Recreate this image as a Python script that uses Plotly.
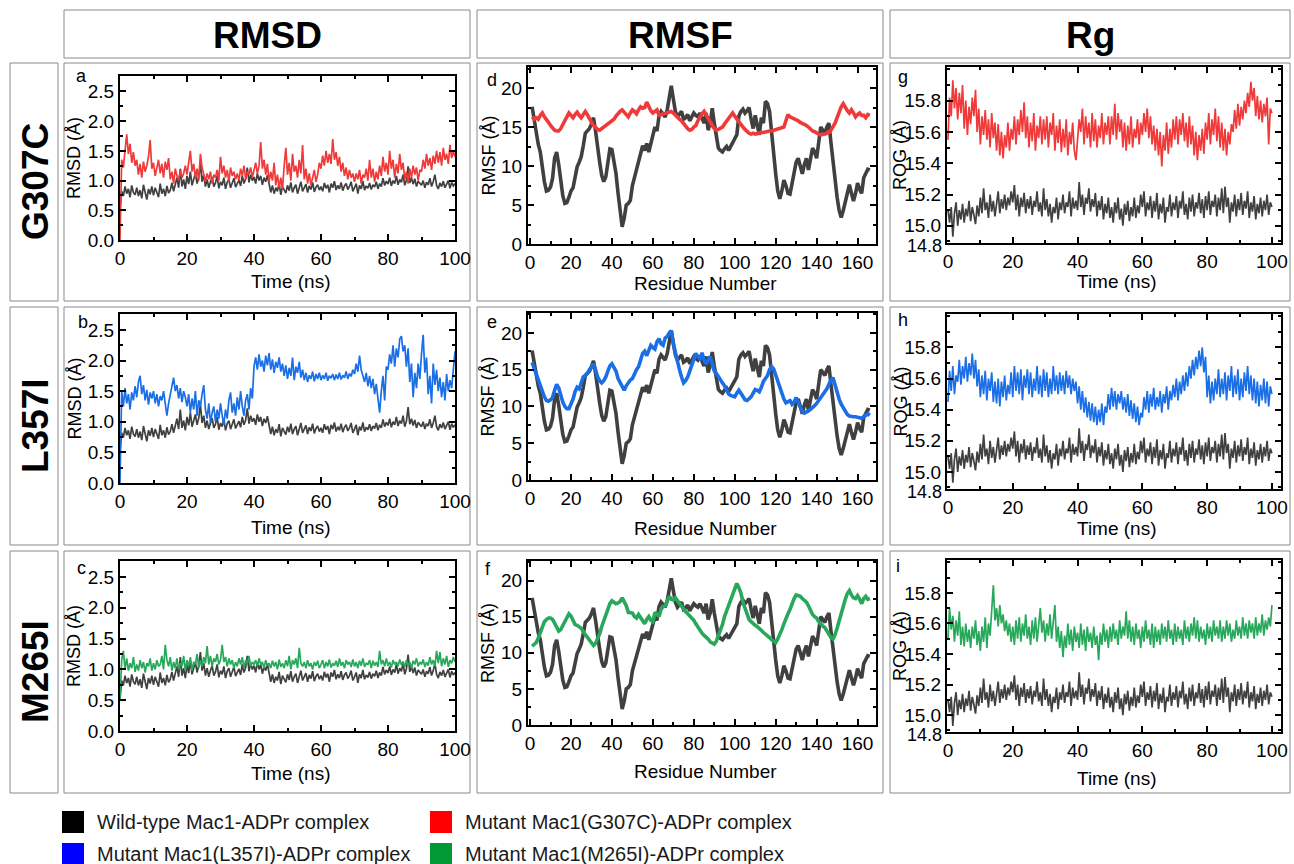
import plotly.graph_objects as go

W, H = 1294, 864

# ---------------- data ----------------
# RMSD (Å), sampled every 0.5 ns from 0 to 100 ns
rmsd_wt = [
 0.52,0.82,0.74,0.90,0.78,0.86,0.72,0.92,0.80,0.76,
 0.88,0.74,0.84,0.70,0.93,0.79,0.68,0.86,0.77,0.90,
 0.75,0.88,0.80,0.72,0.95,0.78,0.86,0.74,0.91,0.79,
 0.84,0.96,0.82,0.92,1.05,0.88,1.20,0.90,1.02,0.86,
 1.08,0.94,1.15,0.92,1.04,1.12,0.95,1.06,1.28,0.98,
 1.10,0.90,1.02,0.88,0.98,1.06,0.90,0.96,1.08,0.87,
 0.98,0.92,1.05,0.86,0.97,1.02,0.88,0.95,1.04,0.89,
 0.96,1.01,0.91,1.08,0.95,1.03,1.22,0.97,1.10,1.00,
 1.06,0.95,1.12,1.00,1.08,0.93,1.05,0.98,1.09,0.92,
 0.80,0.92,0.78,0.88,0.82,0.96,0.76,0.90,0.84,0.79,
 0.92,0.83,0.97,0.80,0.88,0.93,0.78,0.90,0.98,0.82,
 0.88,0.94,0.80,0.91,0.85,0.97,0.81,0.89,0.93,0.84,
 0.90,0.82,0.96,0.87,0.93,0.80,0.95,0.88,0.99,0.84,
 0.92,0.86,0.97,0.83,0.91,0.95,0.85,0.90,0.98,0.82,
 0.88,0.95,0.78,0.92,0.86,0.99,0.84,0.91,0.87,0.96,
 0.85,0.93,0.89,0.98,0.86,0.95,0.90,1.04,0.92,0.99,
 0.94,1.05,0.91,1.00,0.95,1.08,0.93,1.02,0.97,1.10,
 0.92,1.01,1.24,0.96,1.05,0.94,1.03,0.90,0.99,0.95,
 0.92,1.00,0.88,0.97,0.93,1.04,0.90,0.98,1.10,0.92,
 0.86,0.96,0.90,0.99,0.88,0.94,1.00,0.87,0.97,0.91,
 0.95]
rmsd_g307c = [
 0.00,1.35,1.22,1.50,1.78,1.45,1.62,1.30,1.48,1.25,
 1.35,1.10,1.28,1.05,1.32,1.15,1.25,1.40,1.68,1.20,
 1.30,1.08,1.25,1.35,1.12,1.28,1.05,1.32,1.18,1.38,
 1.02,1.15,0.95,1.20,1.08,1.00,1.18,1.05,1.12,1.25,
 1.10,1.35,1.50,1.15,1.28,1.05,1.20,1.00,1.45,1.22,
 1.08,0.98,1.12,1.02,1.15,0.95,1.10,1.05,1.18,1.00,
 1.40,1.12,1.25,1.05,1.18,0.98,1.22,1.08,1.15,1.02,
 1.12,1.00,1.20,1.08,1.25,1.02,1.15,1.10,1.22,1.05,
 1.18,1.30,1.12,1.25,1.65,1.20,1.35,1.10,1.28,0.98,
 1.15,1.00,1.30,0.92,1.10,0.88,1.05,0.85,1.25,1.55,
 1.10,1.30,1.00,1.45,1.15,1.25,1.05,1.35,1.12,1.60,
 1.02,1.20,0.95,1.12,0.92,1.05,1.18,0.98,1.10,1.30,
 1.20,1.42,1.25,1.50,1.30,1.45,1.28,1.70,1.35,1.48,
 1.25,1.40,1.15,1.30,1.08,1.22,1.02,1.18,1.05,1.12,
 0.98,1.12,1.02,1.18,0.95,1.10,1.05,1.20,1.00,1.35,
 1.05,1.20,0.98,1.15,1.02,1.25,1.08,1.40,1.15,1.30,
 1.10,1.50,1.20,1.35,1.05,1.28,1.12,1.45,1.18,1.30,
 1.02,1.15,0.95,1.20,1.05,1.25,1.10,1.22,1.00,1.18,
 1.15,1.35,1.20,1.45,1.25,1.38,1.18,1.42,1.28,1.50,
 1.30,1.48,1.25,1.55,1.35,1.45,1.28,1.60,1.38,1.50,
 1.40]
rmsd_l357i = [
 0.00,1.50,1.25,1.55,1.30,1.45,1.20,1.48,1.35,1.58,
 1.40,1.65,1.75,1.45,1.60,1.35,1.52,1.28,1.48,1.38,
 1.50,1.30,1.45,1.25,1.42,1.35,1.50,1.28,1.10,1.30,
 1.45,1.62,1.72,1.50,1.60,1.38,1.55,1.32,1.50,1.40,
 1.25,1.45,1.15,1.38,1.20,1.50,1.10,1.35,1.25,1.45,
 1.60,1.20,1.05,1.30,0.98,1.15,1.25,1.00,1.20,1.05,
 1.30,1.10,0.95,1.20,1.05,1.35,1.48,1.15,1.30,1.10,
 1.40,1.20,1.50,1.25,1.10,1.35,1.45,1.20,1.55,1.38,
 1.90,2.05,1.85,2.10,1.90,2.00,1.82,2.08,1.92,2.12,
 1.85,2.02,1.80,1.98,1.88,2.05,1.82,1.95,1.75,1.92,
 1.70,1.88,1.75,2.05,1.68,1.90,1.80,1.98,1.72,1.85,
 1.68,1.80,1.65,1.76,1.70,1.82,1.66,1.78,1.70,1.80,
 1.68,1.76,1.70,1.80,1.67,1.75,1.71,1.78,1.68,1.77,
 1.70,1.80,1.69,1.76,1.72,1.82,1.70,1.79,1.74,1.85,
 1.78,1.95,1.82,2.08,1.85,1.75,1.65,1.80,1.58,1.75,
 1.55,1.70,1.45,1.62,1.40,1.15,1.50,1.75,1.35,1.90,
 1.85,2.10,1.95,2.25,1.90,2.20,2.05,2.35,2.40,2.15,
 2.25,1.90,2.20,1.65,1.95,1.40,1.80,1.55,1.95,1.70,
 2.10,2.42,1.80,2.05,1.45,1.75,1.30,1.95,1.60,1.85,
 1.50,1.72,1.40,1.65,1.35,1.78,1.50,1.68,1.55,1.80,
 2.15]
rmsd_m265i = [
 0.50,1.15,1.30,1.00,1.18,0.98,1.10,1.02,1.20,0.96,
 1.08,0.98,1.15,1.02,1.12,0.95,1.10,1.05,1.18,0.98,
 1.10,1.00,1.15,1.05,1.08,1.22,1.00,1.40,1.15,1.05,
 1.20,0.98,1.12,1.02,1.18,1.00,1.10,1.05,1.22,0.98,
 1.15,1.05,1.20,0.98,1.12,1.08,1.25,1.02,1.15,1.05,
 1.20,1.10,1.38,1.08,1.22,1.05,1.18,1.12,1.25,1.08,
 1.15,1.40,1.12,1.20,1.05,1.18,1.08,1.15,1.02,1.12,
 1.05,1.18,1.08,1.20,1.02,1.15,1.10,1.22,1.05,1.12,
 1.08,1.15,1.05,1.18,1.08,1.12,1.02,1.15,1.06,1.10,
 1.02,1.14,1.05,1.12,1.00,1.16,1.04,1.10,1.02,1.15,
 1.05,1.22,1.00,1.15,1.08,1.18,1.02,1.35,1.10,1.05,
 1.12,1.02,1.15,1.05,1.10,1.00,1.12,1.06,1.14,1.02,
 1.08,1.15,1.02,1.12,1.05,1.16,1.03,1.10,1.06,1.14,
 1.04,1.18,1.06,1.12,1.02,1.15,1.08,1.12,1.04,1.16,
 1.05,1.12,1.02,1.14,1.06,1.18,1.04,1.10,1.08,1.15,
 1.02,1.14,1.06,1.12,1.04,1.30,1.08,1.15,1.05,1.18,
 1.06,1.12,1.03,1.15,1.08,1.12,1.05,1.16,1.07,1.13,
 1.04,1.15,1.06,1.12,1.02,1.14,1.08,1.18,1.05,1.12,
 1.08,1.16,1.04,1.12,1.06,1.20,1.08,1.15,1.05,1.30,
 1.10,1.28,1.05,1.18,1.08,1.22,1.04,1.15,1.10,1.20,
 1.12]

# RMSF (Å) per residue, residues 1..166
rmsf_wt = [
 17.6,15.8,14.0,12.8,11.8,9.8,8.0,6.8,6.9,7.3,
 8.4,11.0,11.8,10.2,8.0,6.2,5.2,5.3,6.0,6.8,
 7.2,8.3,9.9,10.5,11.2,12.6,14.2,14.5,14.8,15.4,
 16.2,14.5,12.0,10.5,8.8,8.0,8.6,10.5,12.2,12.1,
 10.8,9.0,6.5,4.2,2.2,3.3,5.0,5.2,5.6,7.5,
 8.5,9.3,10.5,11.5,12.6,12.0,12.9,11.8,12.8,13.6,
 15.0,14.5,16.4,17.0,16.6,16.3,17.2,18.8,20.3,18.6,
 17.0,16.3,16.6,17.0,16.0,16.2,16.6,15.8,16.3,16.8,
 16.5,16.3,16.8,16.2,15.5,16.8,14.6,15.5,17.4,15.5,
 14.0,12.3,12.0,11.8,12.2,12.5,12.0,12.6,13.0,13.5,
 14.0,16.4,17.0,17.3,16.8,17.1,17.5,16.0,14.8,16.5,
 15.0,14.0,16.2,15.5,18.3,18.0,17.0,14.0,12.0,9.0,
 6.8,5.8,6.8,8.2,7.5,6.5,6.4,8.0,9.5,10.5,
 11.0,10.0,9.0,10.2,11.0,9.5,10.8,12.3,11.8,11.0,
 13.0,15.0,14.6,14.2,15.0,15.5,13.0,10.5,8.0,6.0,
 4.3,3.4,4.3,5.5,6.8,7.6,6.5,5.5,6.5,7.8,
 7.0,6.5,8.5,9.0,9.6,9.5]
rmsf_g307c = [
 16.3,16.0,16.2,16.0,16.5,16.8,16.3,16.0,15.6,15.2,
 14.9,14.6,14.5,14.5,14.8,15.3,15.9,16.5,16.8,16.5,
 16.2,16.6,16.9,16.5,16.2,16.6,17.0,16.6,16.0,15.6,
 15.2,14.9,14.7,14.6,14.8,15.0,15.2,15.4,15.5,15.8,
 16.0,16.4,16.8,17.0,17.2,16.9,16.5,16.3,16.8,17.2,
 17.0,16.7,17.2,17.6,17.4,17.5,18.2,17.5,17.1,16.8,
 17.0,17.2,16.5,16.6,16.7,16.7,16.8,16.9,17.0,16.8,
 16.5,16.3,16.0,15.8,15.4,15.0,14.8,14.6,14.7,15.0,
 15.2,15.8,16.3,16.7,17.0,16.5,16.0,15.6,15.2,14.8,
 14.6,14.7,14.8,15.0,15.4,15.8,16.2,16.5,16.8,16.4,
 16.0,15.6,15.3,15.0,14.7,14.4,14.2,14.1,14.2,14.1,
 14.2,14.2,14.3,14.3,14.4,14.4,14.5,14.5,14.6,14.6,
 14.7,14.8,14.9,15.0,15.8,16.6,16.3,16.2,16.0,16.0,
 15.8,15.6,15.5,15.3,15.2,15.0,14.7,14.5,14.4,14.2,
 14.1,14.0,14.0,14.1,14.2,14.3,14.6,15.0,15.5,16.2,
 17.0,17.6,18.0,17.5,17.1,16.8,17.2,16.8,16.3,16.6,
 16.8,16.5,16.5,16.2,16.6,16.5]
rmsf_l357i = [
 16.0,15.2,14.5,13.6,12.7,12.0,11.3,10.8,10.7,10.9,
 11.2,12.2,13.0,12.5,11.5,10.6,10.0,9.7,9.7,10.3,
 11.0,12.0,12.6,12.4,13.2,14.0,14.2,14.5,15.0,15.4,
 15.8,15.0,14.0,13.5,13.2,13.5,14.0,14.8,15.5,15.8,
 15.4,14.8,13.8,13.2,12.6,12.2,12.8,13.3,13.6,13.8,
 14.5,15.0,15.4,16.5,17.2,17.5,16.9,17.6,18.3,18.0,
 17.8,18.8,19.2,18.5,18.3,19.3,19.5,20.0,20.3,18.5,
 17.2,16.0,15.0,14.0,13.2,13.5,14.0,14.8,15.6,16.4,
 17.2,16.8,16.5,17.3,16.3,15.8,16.3,16.8,15.8,14.8,
 14.5,14.0,13.6,13.2,12.8,12.2,11.7,11.5,11.4,11.3,
 11.8,12.2,11.8,11.4,10.9,10.8,11.1,11.3,11.8,12.3,
 12.2,12.0,12.6,13.4,13.8,14.2,15.0,15.4,15.1,14.3,
 13.5,12.6,11.7,11.0,10.5,10.7,10.8,10.3,10.6,11.2,
 10.6,9.8,9.3,9.1,9.2,9.4,9.6,9.8,10.1,10.4,
 10.8,11.2,11.5,11.9,12.4,13.0,13.6,13.9,12.8,12.0,
 11.0,10.3,9.8,9.3,8.9,8.7,8.6,8.6,8.6,8.5,
 8.4,8.4,8.6,8.8,9.0,8.8]
rmsf_m265i = [
 10.9,11.1,11.4,12.0,12.8,13.6,14.3,14.6,14.8,14.8,
 14.6,14.1,13.5,13.0,13.2,13.7,14.2,14.8,15.4,15.1,
 14.6,13.9,13.8,13.6,13.4,12.9,12.5,12.1,11.8,11.4,
 11.0,11.3,11.9,12.6,13.6,14.5,15.3,16.2,16.8,17.2,
 17.0,16.8,16.9,17.1,17.6,17.0,16.5,15.6,15.5,15.5,
 15.0,14.8,15.3,14.8,14.3,14.0,14.6,15.0,14.5,14.3,
 15.6,15.3,15.0,16.0,16.4,16.5,17.2,17.8,17.4,17.3,
 17.6,17.2,16.7,16.4,16.0,15.7,15.4,15.1,14.8,14.5,
 14.0,13.5,13.0,12.7,12.4,12.2,11.9,11.5,11.3,11.2,
 11.6,12.4,13.0,13.9,15.0,15.8,16.6,17.4,18.2,19.0,
 19.6,19.0,18.3,17.0,16.1,15.4,14.6,14.3,14.0,13.8,
 13.6,13.4,13.1,12.8,12.6,12.4,12.1,11.8,11.6,11.4,
 11.9,12.5,13.2,14.0,14.8,15.4,16.0,16.8,17.5,18.0,
 17.9,17.8,17.5,17.2,17.0,16.5,15.8,15.3,15.0,14.8,
 14.3,13.9,13.7,13.5,13.0,12.6,12.1,11.9,12.5,13.4,
 14.5,15.6,16.5,17.4,18.2,18.6,18.0,17.6,17.5,17.9,
 17.4,16.8,17.5,17.8,17.4,17.5]

# Radius of gyration (Å), sampled every 0.5 ns from 0 to 100 ns
rog_wt = [
 15.10,15.02,15.12,14.93,15.08,15.15,15.00,15.10,15.04,15.14,
 15.02,15.11,15.06,15.16,15.03,15.12,15.07,15.01,15.13,15.06,
 15.18,15.08,15.24,15.10,15.15,15.05,15.20,15.09,15.16,15.06,
 15.14,15.22,15.08,15.17,15.11,15.20,15.10,15.18,15.13,15.22,
 15.15,15.26,15.10,15.20,15.06,15.18,15.12,15.21,15.08,15.17,
 15.11,15.19,15.07,15.16,15.12,15.22,15.09,15.15,15.06,15.24,
 15.10,15.17,15.06,15.14,15.02,15.12,15.08,15.18,15.04,15.15,
 15.10,15.20,15.08,15.15,15.12,15.22,15.06,15.18,15.11,15.16,
 15.10,15.28,15.12,15.20,15.07,15.18,15.14,15.24,15.09,15.17,
 15.12,15.21,15.06,15.16,15.10,15.19,15.04,15.14,15.08,15.18,
 15.05,15.12,15.02,15.15,15.08,15.18,15.04,15.11,15.00,15.14,
 15.07,15.16,15.03,15.12,15.06,15.18,15.05,15.13,15.08,15.20,
 15.12,15.22,15.06,15.15,15.10,15.19,15.05,15.16,15.09,15.21,
 15.04,15.14,15.08,15.18,15.02,15.12,15.09,15.20,15.06,15.15,
 15.10,15.19,15.05,15.16,15.11,15.22,15.07,15.14,15.04,15.18,
 15.09,15.20,15.06,15.15,15.11,15.21,15.08,15.17,15.05,15.19,
 15.10,15.22,15.07,15.16,15.12,15.20,15.06,15.18,15.10,15.24,
 15.08,15.25,15.12,15.18,15.02,15.15,15.09,15.20,15.06,15.17,
 15.10,15.21,15.07,15.16,15.11,15.22,15.05,15.15,15.09,15.19,
 15.04,15.14,15.08,15.18,15.06,15.16,15.10,15.20,15.07,15.15,
 15.12]
rog_g307c = [
 15.55,15.82,15.70,15.93,15.75,15.88,15.68,15.85,15.72,15.90,
 15.62,15.80,15.58,15.76,15.65,15.82,15.70,15.87,15.60,15.75,
 15.52,15.70,15.58,15.74,15.55,15.68,15.50,15.72,15.56,15.66,
 15.48,15.65,15.45,15.60,15.43,15.58,15.50,15.66,15.48,15.62,
 15.55,15.70,15.52,15.68,15.58,15.74,15.60,15.79,15.56,15.70,
 15.50,15.66,15.54,15.72,15.48,15.64,15.56,15.70,15.52,15.68,
 15.55,15.70,15.50,15.66,15.58,15.72,15.48,15.64,15.53,15.68,
 15.47,15.62,15.50,15.68,15.45,15.60,15.52,15.66,15.48,15.42,
 15.55,15.68,15.60,15.75,15.52,15.70,15.56,15.66,15.50,15.72,
 15.54,15.68,15.50,15.64,15.56,15.72,15.52,15.66,15.58,15.70,
 15.52,15.70,15.58,15.78,15.55,15.72,15.60,15.68,15.50,15.66,
 15.48,15.64,15.52,15.70,15.50,15.62,15.56,15.68,15.52,15.66,
 15.58,15.72,15.60,15.75,15.56,15.70,15.52,15.64,15.48,15.62,
 15.45,15.60,15.38,15.58,15.48,15.66,15.46,15.62,15.50,15.68,
 15.55,15.70,15.52,15.68,15.58,15.72,15.54,15.66,15.50,15.70,
 15.52,15.64,15.45,15.60,15.42,15.58,15.48,15.62,15.46,15.66,
 15.55,15.72,15.52,15.68,15.58,15.75,15.54,15.70,15.50,15.66,
 15.48,15.62,15.45,15.60,15.52,15.65,15.60,15.74,15.62,15.78,
 15.64,15.76,15.68,15.80,15.72,15.85,15.76,15.92,15.80,15.88,
 15.70,15.83,15.68,15.80,15.66,15.78,15.70,15.82,15.52,15.75,
 15.72]
rog_l357i = [
 15.45,15.65,15.52,15.68,15.50,15.62,15.58,15.72,15.56,15.68,
 15.60,15.74,15.58,15.70,15.62,15.76,15.60,15.72,15.55,15.66,
 15.48,15.62,15.50,15.65,15.46,15.60,15.52,15.64,15.45,15.58,
 15.44,15.60,15.42,15.58,15.48,15.62,15.46,15.56,15.50,15.64,
 15.48,15.68,15.52,15.64,15.50,15.66,15.46,15.62,15.54,15.66,
 15.50,15.64,15.48,15.60,15.52,15.68,15.50,15.62,15.48,15.66,
 15.52,15.64,15.48,15.60,15.50,15.68,15.52,15.62,15.50,15.64,
 15.52,15.62,15.50,15.65,15.54,15.62,15.50,15.60,15.52,15.58,
 15.44,15.55,15.40,15.52,15.38,15.48,15.35,15.45,15.33,15.44,
 15.32,15.42,15.30,15.40,15.32,15.44,15.30,15.42,15.38,15.50,
 15.40,15.54,15.42,15.52,15.40,15.50,15.44,15.52,15.40,15.48,
 15.38,15.50,15.36,15.46,15.34,15.44,15.32,15.42,15.30,15.38,
 15.35,15.48,15.40,15.52,15.38,15.50,15.42,15.54,15.40,15.48,
 15.42,15.52,15.38,15.50,15.44,15.55,15.40,15.52,15.46,15.56,
 15.48,15.60,15.46,15.58,15.50,15.62,15.52,15.64,15.55,15.68,
 15.60,15.72,15.62,15.74,15.66,15.78,15.68,15.80,15.64,15.74,
 15.48,15.62,15.44,15.58,15.46,15.60,15.50,15.66,15.48,15.60,
 15.50,15.64,15.46,15.62,15.52,15.68,15.48,15.62,15.50,15.66,
 15.46,15.60,15.48,15.64,15.52,15.68,15.50,15.62,15.46,15.60,
 15.44,15.58,15.42,15.56,15.46,15.60,15.44,15.58,15.42,15.55,
 15.50]
rog_m265i = [
 15.50,15.70,15.56,15.65,15.48,15.62,15.52,15.68,15.46,15.58,
 15.45,15.60,15.48,15.56,15.44,15.58,15.50,15.62,15.46,15.55,
 15.42,15.58,15.48,15.64,15.44,15.60,15.52,15.66,15.85,15.62,
 15.70,15.58,15.72,15.60,15.66,15.55,15.62,15.52,15.60,15.48,
 15.58,15.46,15.62,15.50,15.64,15.48,15.60,15.52,15.66,15.50,
 15.58,15.46,15.62,15.50,15.64,15.48,15.60,15.70,15.54,15.62,
 15.48,15.60,15.52,15.66,15.50,15.62,15.72,15.48,15.58,15.44,
 15.55,15.38,15.52,15.44,15.60,15.46,15.56,15.42,15.58,15.48,
 15.54,15.44,15.60,15.46,15.56,15.42,15.58,15.48,15.54,15.44,
 15.58,15.46,15.52,15.36,15.54,15.46,15.60,15.48,15.56,15.44,
 15.58,15.48,15.60,15.50,15.56,15.46,15.62,15.50,15.58,15.52,
 15.68,15.50,15.62,15.48,15.58,15.46,15.60,15.50,15.56,15.44,
 15.58,15.48,15.62,15.50,15.56,15.46,15.60,15.44,15.58,15.48,
 15.56,15.46,15.60,15.50,15.58,15.48,15.62,15.50,15.56,15.46,
 15.60,15.48,15.58,15.50,15.56,15.46,15.62,15.50,15.58,15.48,
 15.60,15.52,15.64,15.50,15.62,15.48,15.58,15.50,15.56,15.46,
 15.60,15.50,15.58,15.48,15.62,15.52,15.58,15.50,15.62,15.48,
 15.58,15.50,15.62,15.52,15.60,15.48,15.56,15.50,15.62,15.52,
 15.58,15.50,15.64,15.52,15.60,15.50,15.62,15.54,15.60,15.50,
 15.64,15.52,15.60,15.54,15.66,15.52,15.62,15.56,15.64,15.58,
 15.72]

column_titles = ["RMSD", "RMSF", "Rg"]
row_titles = ["G307C", "L357I", "M265I"]
panel_letters = ["a", "b", "c", "d", "e", "f", "g", "h", "i"]
legend_labels = ["Wild-type Mac1-ADPr complex", "Mutant Mac1(G307C)-ADPr complex",
                 "Mutant Mac1(L357I)-ADPr complex", "Mutant Mac1(M265I)-ADPr complex"]
rmsd_ticks = [0.0, 0.5, 1.0, 1.5, 2.0, 2.5]
rmsf_ticks = [0, 5, 10, 15, 20]
rog_ticks = [15.0, 15.2, 15.4, 15.6, 15.8]
time_ticks = [0, 20, 40, 60, 80, 100]
residue_ticks = [0, 20, 40, 60, 80, 100, 120, 140, 160]

# ---------------- styling ----------------
C_WT = "#404040"
C_RED = "#f03a3a"
C_BLUE = "#1a6ee6"
C_GREEN = "#27a85a"
FONT = "Arial, Liberation Sans, sans-serif"


def fx(p):
    return p / W


def fy(p):
    return 1 - p / H


def tgrid(vals):
    return [i * 0.5 for i in range(len(vals))]


def rgrid(vals):
    return list(range(1, len(vals) + 1))


def text(t, px, py, size, angle=0, xanchor="center", color="black"):
    return dict(text=t, x=fx(px), y=fy(py), xref="paper", yref="paper", showarrow=False,
                textangle=angle, xanchor=xanchor, yanchor="middle",
                font=dict(family=FONT, size=size, color=color))


mut_rmsd = [rmsd_g307c, rmsd_l357i, rmsd_m265i]
mut_rmsf = [rmsf_g307c, rmsf_l357i, rmsf_m265i]
mut_rog = [rog_g307c, rog_l357i, rog_m265i]
mut_col = [C_RED, C_BLUE, C_GREEN]

# plot areas in pixels: (x0, x1) per column, (top, bottom) per column/row
col_x = [(120, 455), (528, 876), (947, 1281)]
row_y = {
    0: [(76, 240), (314, 483), (561, 731)],
    1: [(67, 244), (313, 480), (561, 725)],
    2: [(67, 243), (314, 489), (560, 732)],
}
xtitle_y = {0: [282, 527, 773], 1: [283, 528, 771], 2: [282, 528, 778]}
# panel letter positions (pixels), order a..i (column-wise)
letter_pos = [(81, 76), (83, 322), (81, 568), (492, 80), (492, 322), (488, 569),
              (903, 77), (903, 320), (898, 566)]

fig = go.Figure()
layout = {}
annotations = []
shapes = []

axis_base = dict(showline=True, linecolor="black", linewidth=2, mirror="allticks",
                 ticks="inside", ticklen=6, tickwidth=1.5, tickcolor="black",
                 showgrid=False, zeroline=False,
                 tickfont=dict(family=FONT, size=19, color="black"))

k = 0
for c in range(3):
    for r in range(3):
        k += 1
        xs = "" if k == 1 else str(k)
        xa, ya = "x" + xs, "y" + xs
        x0, x1 = col_x[c]
        yt, yb = row_y[c][r]
        xd = [fx(x0), fx(x1)]
        yd = [fy(yb), fy(yt)]
        if c == 0:
            xr, xt, xm = [0, 100], time_ticks, 10
            yr, yt_, ym, yf = [0, 2.76], rmsd_ticks, 0.25, ".1f"
            series = [(tgrid(rmsd_wt), rmsd_wt, C_WT), (tgrid(mut_rmsd[r]), mut_rmsd[r], mut_col[r])]
            lw = 1.7
            ytitle, xtitle = "RMSD (Å)", "Time (ns)"
            ytx = 74
        elif c == 1:
            xr, xt, xm = [-1, 169], residue_ticks, 10
            yr, yt_, ym, yf = [0, 22.7], rmsf_ticks, 2.5, "d"
            series = [(rgrid(rmsf_wt), rmsf_wt, C_WT), (rgrid(mut_rmsf[r]), mut_rmsf[r], mut_col[r])]
            lw = 3.6
            ytitle, xtitle = "RMSF (Å)", "Residue Number"
            ytx = 488
        else:
            xr, xt, xm = [-0.3, 102.8], time_ticks, 10
            yr, yt_, ym, yf = [14.89, 16.015], rog_ticks, 0.1, ".1f"
            series = [(tgrid(rog_wt), rog_wt, C_WT), (tgrid(mut_rog[r]), mut_rog[r], mut_col[r])]
            lw = 1.7
            ytitle, xtitle = "ROG (Å)", "Time (ns)"
            ytx = 900
        for sx, sy, col in series:
            fig.add_trace(go.Scatter(x=sx, y=sy, mode="lines", xaxis=xa, yaxis=ya,
                                     line=dict(color=col, width=lw), showlegend=False,
                                     hoverinfo="skip"))
        layout["xaxis" + xs] = dict(axis_base, domain=xd, range=xr, tickvals=xt, anchor=ya,
                                    minor=dict(ticks="inside", ticklen=3, tickcolor="black",
                                               dtick=xm, tick0=0, showgrid=False))
        layout["yaxis" + xs] = dict(axis_base, domain=yd, range=yr, tickvals=yt_, tickformat=yf,
                                    anchor=xa,
                                    minor=dict(ticks="inside", ticklen=3, tickcolor="black",
                                               dtick=ym, tick0=0, showgrid=False))
        # axis titles
        annotations.append(text(ytitle, ytx, (yt + yb) / 2, 18, angle=-90))
        annotations.append(text(xtitle, (x0 + x1) / 2 + 3, xtitle_y[c][r], 19))
        # panel letter
        lx, ly = letter_pos[k - 1]
        annotations.append(text(panel_letters[k - 1], lx, ly, 18))
        if c == 2:
            annotations.append(text("14.8", x0 - 3, yb + 3, 18, xanchor="right"))

# frames: column headers, row labels, panel boxes
box_cols = [(64, 470), (477, 883), (890, 1290)]
box_rows = [(63, 301), (307, 545), (551, 793)]
for i, (bx0, bx1) in enumerate(box_cols):
    shapes.append(dict(type="rect", xref="paper", yref="paper", x0=fx(bx0), x1=fx(bx1),
                       y0=fy(58), y1=fy(10), line=dict(color="#8a8a8a", width=1), layer="below"))
    annotations.append(text("<b>%s</b>" % column_titles[i], (bx0 + bx1) / 2, 35, 37))
    for (by0, by1) in box_rows:
        shapes.append(dict(type="rect", xref="paper", yref="paper", x0=fx(bx0), x1=fx(bx1),
                           y0=fy(by1), y1=fy(by0), line=dict(color="#8a8a8a", width=1),
                           layer="below"))
for j, (by0, by1) in enumerate(box_rows):
    shapes.append(dict(type="rect", xref="paper", yref="paper", x0=fx(10), x1=fx(58),
                       y0=fy(by1), y1=fy(by0), line=dict(color="#8a8a8a", width=1), layer="below"))
    annotations.append(text("<b>%s</b>" % row_titles[j], 35, (by0 + by1) / 2, 37, angle=-90))

# bottom legend (2 x 2 grid of colour squares)
leg_colors = ["#000000", "#ff0000", "#0000ff", "#009933"]
leg_pos = [(62, 822), (430, 822), (62, 854), (430, 854)]
for (lx, ly), lc, lt in zip(leg_pos, leg_colors, legend_labels):
    shapes.append(dict(type="rect", xref="paper", yref="paper", x0=fx(lx), x1=fx(lx + 22),
                       y0=fy(min(ly + 11, H)), y1=fy(ly - 11), fillcolor=lc, line=dict(width=0)))
    annotations.append(text(lt, lx + 33, ly, 20, xanchor="left", color="#1a1a1a"))

fig.update_layout(width=W, height=H,
                  margin=dict(l=0, r=0, t=0, b=0, pad=0, autoexpand=False),
                  paper_bgcolor="white", plot_bgcolor="white", showlegend=False,
                  annotations=annotations, shapes=shapes, **layout)
fig.write_html("out.html", config={"displayModeBar": False},
               post_script="document.body.style.margin='0px';document.body.style.overflow='hidden';")
